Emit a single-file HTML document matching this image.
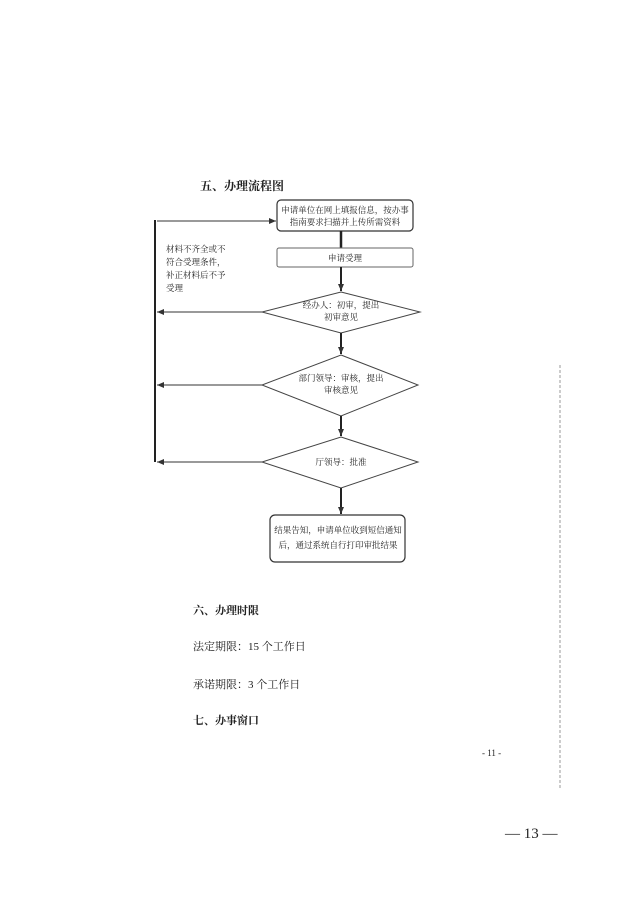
<!DOCTYPE html>
<html><head><meta charset="utf-8"><style>
html,body{margin:0;padding:0;background:#fff;}
svg{display:block;}
text{font-family:"Liberation Serif","Noto Serif CJK SC","Noto Sans CJK SC",serif;fill:#222;}
</style></head><body>
<svg width="636" height="900" viewBox="0 0 636 900" xmlns="http://www.w3.org/2000/svg">
<defs><marker id="a" markerWidth="8" markerHeight="8" refX="7" refY="4" orient="auto" markerUnits="userSpaceOnUse"><path d="M0,1 L7,4 L0,7 z" fill="#333"/></marker></defs>
<text x="200" y="190" font-size="12" font-weight="bold">五、办理流程图</text>
<rect x="277" y="200" width="136" height="31" rx="4" fill="#fff" stroke="#333" stroke-width="1.2"/>
<text x="345" y="213" font-size="8.5" text-anchor="middle">申请单位在网上填报信息，按办事</text>
<text x="345" y="225" font-size="8.5" text-anchor="middle">指南要求扫描并上传所需资料</text>
<line x1="341" y1="231" x2="341" y2="248" stroke="#222" stroke-width="2.5"/>
<rect x="277" y="248" width="136" height="19" rx="2" fill="#fff" stroke="#666" stroke-width="1"/>
<text x="345" y="261" font-size="8.5" text-anchor="middle">申请受理</text>
<line x1="341" y1="267" x2="341" y2="291" stroke="#222" stroke-width="2" marker-end="url(#a)"/>
<polygon points="341,292 420,312 341,333 262,312" fill="#fff" stroke="#444" stroke-width="1"/>
<text x="341" y="308" font-size="8.5" text-anchor="middle">经办人：初审，提出</text>
<text x="341" y="320" font-size="8.5" text-anchor="middle">初审意见</text>
<line x1="341" y1="333" x2="341" y2="354" stroke="#222" stroke-width="2" marker-end="url(#a)"/>
<polygon points="341,355 418,385 341,416 262,385" fill="#fff" stroke="#444" stroke-width="1"/>
<text x="341" y="381" font-size="8.5" text-anchor="middle">部门领导：审核，提出</text>
<text x="341" y="393" font-size="8.5" text-anchor="middle">审核意见</text>
<line x1="341" y1="416" x2="341" y2="436" stroke="#222" stroke-width="2" marker-end="url(#a)"/>
<polygon points="341,437 418,462 341,488 262,462" fill="#fff" stroke="#444" stroke-width="1"/>
<text x="341" y="465" font-size="8.5" text-anchor="middle">厅领导：批准</text>
<line x1="341" y1="488" x2="341" y2="514" stroke="#222" stroke-width="2" marker-end="url(#a)"/>
<rect x="270" y="515" width="135" height="47" rx="5" fill="#fff" stroke="#333" stroke-width="1.2"/>
<text x="338" y="533" font-size="8.5" text-anchor="middle">结果告知，申请单位收到短信通知</text>
<text x="338" y="548" font-size="8.5" text-anchor="middle">后，通过系统自行打印审批结果</text>
<line x1="155" y1="220" x2="155" y2="462" stroke="#222" stroke-width="2"/>
<line x1="157" y1="221" x2="276" y2="221" stroke="#333" stroke-width="1" marker-end="url(#a)"/>
<line x1="262" y1="312" x2="157" y2="312" stroke="#333" stroke-width="1" marker-end="url(#a)"/>
<line x1="262" y1="385" x2="157" y2="385" stroke="#333" stroke-width="1" marker-end="url(#a)"/>
<line x1="262" y1="462" x2="157" y2="462" stroke="#333" stroke-width="1" marker-end="url(#a)"/>
<text x="166" y="252" font-size="8.5">材料不齐全或不</text>
<text x="166" y="265" font-size="8.5">符合受理条件，</text>
<text x="166" y="278" font-size="8.5">补正材料后不予</text>
<text x="166" y="291" font-size="8.5">受理</text>
<text x="193" y="614" font-size="11" font-weight="bold">六、办理时限</text>
<text x="193" y="650" font-size="11">法定期限：15 个工作日</text>
<text x="193" y="688" font-size="11">承诺期限：3 个工作日</text>
<text x="193" y="724" font-size="11" font-weight="bold">七、办事窗口</text>
<text x="482" y="756" font-size="9">- 11 -</text>
<line x1="560" y1="365" x2="560" y2="790" stroke="#999" stroke-width="1" stroke-dasharray="3,2"/>
<text x="505" y="838" font-size="15">— 13 —</text>
</svg>
</body></html>
